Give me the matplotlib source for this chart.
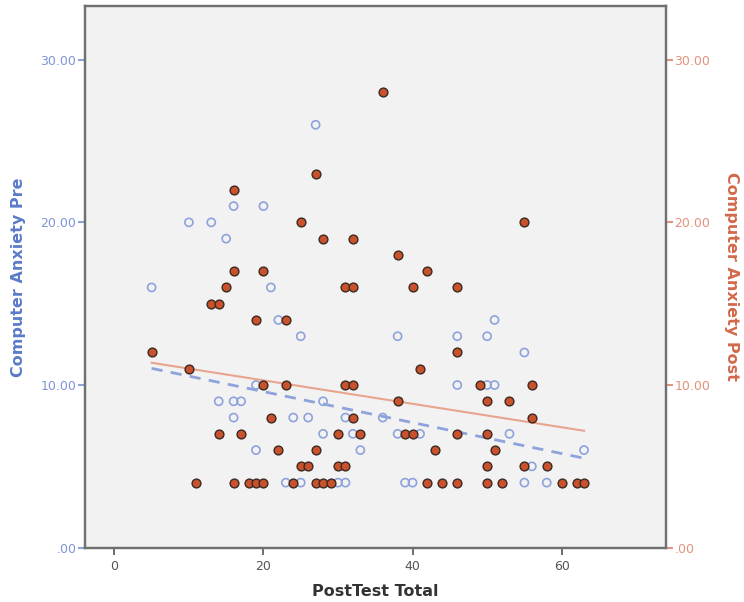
import numpy as np
import matplotlib
matplotlib.use("Agg")
import matplotlib.pyplot as plt
from matplotlib.ticker import FuncFormatter

# PostTest Total vs. Computer Anxiety (pre = open blue, post = filled red)
x_pre = [27, 16, 20, 10, 13, 15, 5, 21, 22, 51, 25, 38, 46, 50, 55, 19, 46, 50, 51,
         14, 16, 17, 28, 16, 24, 26, 31, 36, 28, 32, 38, 41, 53, 19, 33, 63, 56,
         23, 25, 30, 31, 39, 40, 55, 58]
anx_pre = [26, 21, 21, 20, 20, 19, 16, 16, 14, 14, 13, 13, 13, 13, 12, 10, 10, 10, 10,
           9, 9, 9, 9, 8, 8, 8, 8, 8, 7, 7, 7, 7, 7, 6, 6, 6, 5,
           4, 4, 4, 4, 4, 4, 4, 4]

x_post = [36, 27, 16, 25, 55, 28, 32, 38, 16, 20, 42, 15, 31, 32, 40, 46, 13, 14, 19, 23,
          5, 46, 10, 41, 20, 23, 31, 32, 49, 56, 38, 50, 53, 21, 32, 56,
          14, 17, 30, 33, 39, 40, 46, 50, 22, 27, 43, 51, 25, 26, 30, 31, 50, 55, 58,
          11, 16, 18, 19, 20, 24, 27, 28, 29, 42, 44, 46, 50, 52, 60, 62, 63]
anx_post = [28, 23, 22, 20, 20, 19, 19, 18, 17, 17, 17, 16, 16, 16, 16, 16, 15, 15, 14, 14,
            12, 12, 11, 11, 10, 10, 10, 10, 10, 10, 9, 9, 9, 8, 8, 8,
            7, 7, 7, 7, 7, 7, 7, 7, 6, 6, 6, 6, 5, 5, 5, 5, 5, 5, 5,
            4, 4, 4, 4, 4, 4, 4, 4, 4, 4, 4, 4, 4, 4, 4, 4, 4]

# linear fit lines (intercept, slope) over the observed x range
fit_pre = (11.50, -0.0952)
fit_post = (11.73, -0.0721)
fit_range = (5, 63)

blue = "#8ea2dc"
blue_dark = "#5b7bc9"
red = "#c9522c"
red_line = "#e8a48e"
red_text = "#d2694c"
red_tick = "#e0937d"

fig = plt.figure(figsize=(7.44, 6.02), dpi=100)
ax = fig.add_axes([0.1136, 0.0902, 0.7816, 0.8998])
ax.set_facecolor("#f2f2f2")
ax2 = ax.twinx()

ax.scatter(x_pre, anx_pre, s=34, facecolors="none", edgecolors=blue, linewidths=1.2, zorder=3)

xf = np.array(fit_range)
ax.plot(xf, fit_pre[0] + fit_pre[1] * xf, color=blue, lw=2, dashes=(4, 3), zorder=4)
ax2.plot(xf, fit_post[0] + fit_post[1] * xf, color=red_line, lw=1.5, zorder=2)
ax2.scatter(x_post, anx_post, s=40, facecolors=red, edgecolors="#3b2a22", linewidths=1.0, zorder=3)

for a in (ax, ax2):
    a.set_xlim(-4, 74)
    a.set_ylim(0, 33.3)
    a.set_yticks([0, 10, 20, 30])
    a.yaxis.set_major_formatter(FuncFormatter(lambda v, p: ".00" if v == 0 else f"{v:.2f}"))
    for s in a.spines.values():
        s.set_color("#707070")
        s.set_linewidth(1.6)

ax.set_xticks([0, 20, 40, 60])
ax.tick_params(axis="x", colors="#555555", labelsize=9, length=5, width=1.2)
ax.tick_params(axis="y", colors=blue, labelcolor="#7f95d6", labelsize=9, length=5, width=1.5, pad=1)
ax2.tick_params(axis="y", colors=red_tick, labelcolor=red_tick, labelsize=9, length=5, width=1.5, pad=1)

ax.set_xlabel("PostTest Total", fontsize=11.5, fontweight="bold", color="#333333", va="center")
ax.xaxis.set_label_coords(0.4996, -0.08)
ax.set_ylabel("Computer Anxiety Pre", fontsize=11.5, fontweight="bold", color=blue_dark, va="center")
ax.yaxis.set_label_coords(-0.114, 0.5)
ax2.set_ylabel("Computer Anxiety Post", fontsize=11.5, fontweight="bold", color=red_text,
               rotation=270, va="center")
ax2.yaxis.set_label_coords(1.112, 0.5)

fig.savefig("out.png", dpi=100, facecolor="white")
